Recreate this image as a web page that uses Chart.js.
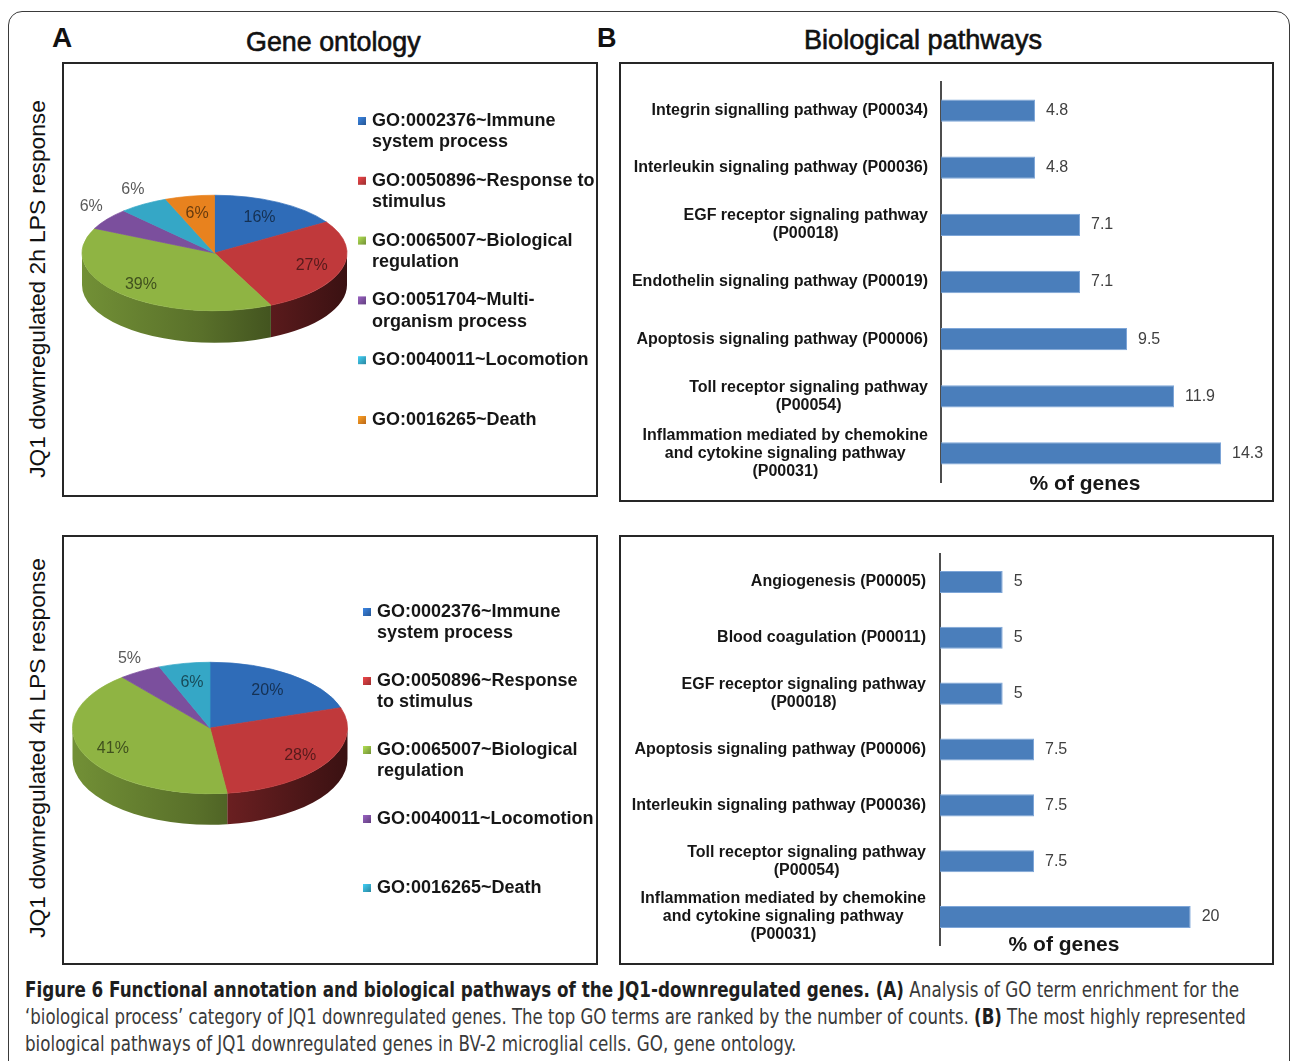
<!DOCTYPE html>
<html>
<head>
<meta charset="utf-8">
<script src="https://cdn.jsdelivr.net/npm/chart.js@4.4.1/dist/chart.umd.min.js"></script>
<style>
  html, body { margin: 0; padding: 0; background: #fff; }
  body { width: 1292px; height: 1061px; position: relative; overflow: hidden;
         font-family: "Liberation Sans", Arial, sans-serif; color: #111; }
  .frame { position: absolute; left: 8px; top: 11px; width: 1282px; height: 1080px;
           border: 1.5px solid #3a3a3a; border-radius: 14px; box-sizing: border-box; }
  .panel { position: absolute; border: 2px solid #262626; box-sizing: border-box; background: #fff; }
  .panel canvas { position: absolute; left: 0; top: 0; }
  .txt { position: absolute; white-space: nowrap; transform-origin: 0 50%; }
  .rot { transform-origin: 50% 50%; }
  .head { -webkit-text-stroke: 0.6px #111; }
  .cap { font-family: "Liberation Sans Narrow", "DejaVu Sans Condensed", "Liberation Sans", Arial, sans-serif;
         font-size: 21px; line-height: 27px; height: 27px; color: #3a3a3a; }
  .cap b { color: #1e1e1e; }
</style>
</head>
<body>
<div class="frame"></div>

<div class="txt" style="left:52px;top:22px;line-height:32px;font-size:28px;font-weight:bold;">A</div>
<div class="txt head" data-w="175" style="left:246px;top:26px;line-height:32px;font-size:27px;">Gene ontology</div>
<div class="txt" style="left:597px;top:22px;line-height:32px;font-size:27px;font-weight:bold;">B</div>
<div class="txt head" data-w="238" style="left:804px;top:24px;line-height:32px;font-size:27px;">Biological pathways</div>

<div class="txt rot" data-w="378" data-rot="1" style="left:38px;top:289px;line-height:26px;font-size:22px;">JQ1 downregulated 2h LPS response</div>
<div class="txt rot" data-w="380" data-rot="1" style="left:38px;top:748px;line-height:26px;font-size:22px;">JQ1 downregulated 4h LPS response</div>

<div class="panel" style="left:62px;top:62px;width:536px;height:435px;"><canvas id="pie2h" width="532" height="431"></canvas></div>
<div class="panel" style="left:619px;top:62px;width:655px;height:440px;"><canvas id="bar2h" width="651" height="436"></canvas></div>
<div class="panel" style="left:62px;top:535px;width:536px;height:430px;"><canvas id="pie4h" width="532" height="426"></canvas></div>
<div class="panel" style="left:619px;top:535px;width:655px;height:430px;"><canvas id="bar4h" width="651" height="426"></canvas></div>

<div class="txt cap" data-w="1214" style="left:25px;top:977px;"><b>Figure 6 Functional annotation and biological pathways of the JQ1-downregulated genes. (A)</b> Analysis of GO term enrichment for the</div>
<div class="txt cap" data-w="1221" style="left:25px;top:1004px;">‘biological process’ category of JQ1 downregulated genes. The top GO terms are ranked by the number of counts. <b>(B)</b> The most highly represented</div>
<div class="txt cap" data-w="771" style="left:25px;top:1031px;">biological pathways of JQ1 downregulated genes in BV-2 microglial cells. GO, gene ontology.</div>

<script>
// ---- GO terms, 2h LPS ----
const goTerms2h = [
  ['GO:0002376~Immune', 'system process'],
  ['GO:0050896~Response to', 'stimulus'],
  ['GO:0065007~Biological', 'regulation'],
  ['GO:0051704~Multi-', 'organism process'],
  ['GO:0040011~Locomotion'],
  ['GO:0016265~Death']
];
const goShare2h = [16, 27, 39, 6, 6, 6];

// ---- GO terms, 4h LPS ----
const goTerms4h = [
  ['GO:0002376~Immune', 'system process'],
  ['GO:0050896~Response', 'to stimulus'],
  ['GO:0065007~Biological', 'regulation'],
  ['GO:0040011~Locomotion'],
  ['GO:0016265~Death']
];
const goShare4h = [20, 28, 41, 5, 6];

// ---- Pathways, 2h LPS ----
const pathways2h = [
  'Integrin signalling pathway (P00034)',
  'Interleukin signaling pathway (P00036)',
  ['EGF receptor signaling pathway', '(P00018)'],
  'Endothelin signaling pathway (P00019)',
  'Apoptosis signaling pathway (P00006)',
  ['Toll receptor signaling pathway', '(P00054)'],
  ['Inflammation mediated by chemokine', 'and cytokine signaling pathway', '(P00031)']
];
const genePct2h = [4.8, 4.8, 7.1, 7.1, 9.5, 11.9, 14.3];

// ---- Pathways, 4h LPS ----
const pathways4h = [
  'Angiogenesis (P00005)',
  'Blood coagulation (P00011)',
  ['EGF receptor signaling pathway', '(P00018)'],
  'Apoptosis signaling pathway (P00006)',
  'Interleukin signaling pathway (P00036)',
  ['Toll receptor signaling pathway', '(P00054)'],
  ['Inflammation mediated by chemokine', 'and cytokine signaling pathway', '(P00031)']
];
const genePct4h = [5, 5, 5, 7.5, 7.5, 7.5, 20];

const axisTitle = '% of genes';

// slice palette
const BLUE = '#2f6cb8', RED = '#c0393b', GREEN = '#8fb443', PURPLE = '#7b4f9d', CYAN = '#35a7c6', ORANGE = '#e8821e';
const colors2h = [BLUE, RED, GREEN, PURPLE, CYAN, ORANGE];
const colors4h = [BLUE, RED, GREEN, PURPLE, CYAN];

const FONT = '"Liberation Sans", Arial, sans-serif';

function shade(hex, f) {
  const n = parseInt(hex.slice(1), 16);
  const c = v => Math.max(0, Math.min(255, Math.round(v * f)));
  return `rgb(${c((n >> 16) & 255)},${c((n >> 8) & 255)},${c(n & 255)})`;
}

// Tilted pie: draws the rim, squashes the top face, then labels and legend.
const pie3d = {
  id: 'pie3d',
  beforeDatasetsDraw(chart, args, o) {
    const ctx = chart.ctx;
    const arcs = chart.getDatasetMeta(0).data;
    const colors = chart.data.datasets[0].backgroundColor;
    const { x: cx, y: cy, outerRadius: r } = arcs[0];
    const ry = r * o.tilt;
    arcs.forEach((arc, i) => {
      const s = Math.max(arc.startAngle, 0), e = Math.min(arc.endAngle, Math.PI);
      if (e <= s) return;
      const g = ctx.createLinearGradient(cx - r, 0, cx + r, 0);
      g.addColorStop(0, shade(colors[i], 0.8));
      g.addColorStop(0.45, shade(colors[i], 0.62));
      g.addColorStop(1, shade(colors[i], 0.3));
      ctx.beginPath();
      ctx.ellipse(cx, cy, r, ry, 0, s, e, false);
      ctx.ellipse(cx, cy + o.depth, r, ry, 0, e, s, true);
      ctx.closePath();
      ctx.fillStyle = g;
      ctx.fill();
    });
    ctx.save();
    ctx.translate(0, cy);
    ctx.scale(1, o.tilt);
    ctx.translate(0, -cy);
  },
  afterDatasetsDraw(chart, args, o) {
    const ctx = chart.ctx;
    ctx.restore();
    const arcs = chart.getDatasetMeta(0).data;
    const ds = chart.data.datasets[0];
    const { x: cx, y: cy, outerRadius: r } = arcs[0];
    const ry = r * o.tilt;
    ctx.save();
    ctx.font = '16px ' + FONT;
    ctx.textAlign = 'center';
    ctx.textBaseline = 'middle';
    arcs.forEach((arc, i) => {
      const m = (arc.startAngle + arc.endAngle) / 2;
      let x, y;
      if (o.outside.includes(i)) {
        x = cx + 1.15 * r * Math.cos(m);
        y = cy + 1.15 * ry * Math.sin(m) + o.outsideDy;
        ctx.fillStyle = '#595959';
      } else {
        const f = 0.75 + 0.05 * Math.sin(m);
        x = cx + f * r * Math.cos(m);
        y = cy + f * ry * Math.sin(m);
        ctx.fillStyle = shade(ds.backgroundColor[i], 0.45);
      }
      ctx.fillText(ds.data[i] + '%', x, y);
    });
    ctx.restore();
  },
  afterDraw(chart, args, o) {
    const ctx = chart.ctx;
    const colors = chart.data.datasets[0].backgroundColor;
    const L = o.legend;
    ctx.save();
    ctx.font = 'bold 18px ' + FONT;
    ctx.textAlign = 'left';
    ctx.textBaseline = 'middle';
    chart.data.labels.forEach((lines, i) => {
      const y0 = L.y + i * L.gap;
      const g = ctx.createLinearGradient(L.x, y0 - 4, L.x + 8, y0 + 4);
      g.addColorStop(0, shade(colors[i], 1.25));
      g.addColorStop(1, shade(colors[i], 0.8));
      ctx.fillStyle = g;
      ctx.fillRect(L.x, y0 - 4, 8, 8);
      ctx.fillStyle = '#161616';
      lines.forEach((ln, k) => ctx.fillText(ln, L.x + 14, y0 + k * L.line));
    });
    ctx.restore();
  }
};

// Category names, value labels and axis caption for the pathway bars.
const pathwayText = {
  id: 'pathwayText',
  afterDatasetsDraw(chart, args, o) {
    const ctx = chart.ctx, ys = chart.scales.y, area = chart.chartArea;
    const meta = chart.getDatasetMeta(0);
    const vals = chart.data.datasets[0].data;
    ctx.save();
    ctx.textBaseline = 'middle';
    ctx.font = 'bold 16px ' + FONT;
    ctx.fillStyle = '#161616';
    ctx.textAlign = 'center';
    chart.data.labels.forEach((lab, i) => {
      const lines = Array.isArray(lab) ? lab : [lab];
      const w = Math.max(...lines.map(l => ctx.measureText(l).width));
      const cx = area.left - o.gap - w / 2;
      const yc = ys.getPixelForValue(i);
      lines.forEach((ln, k) => ctx.fillText(ln, cx, yc + (k - (lines.length - 1) / 2) * 18));
    });
    ctx.font = '16px ' + FONT;
    ctx.fillStyle = '#404040';
    ctx.textAlign = 'left';
    meta.data.forEach((bar, i) => ctx.fillText(String(vals[i]), bar.x + 11, bar.y));
    ctx.font = 'bold 21px ' + FONT;
    ctx.fillStyle = '#161616';
    ctx.textAlign = 'center';
    ctx.fillText(axisTitle, area.left + o.titleDx, area.bottom + o.titleDy);
    ctx.restore();
  }
};

function goPie(id, labels, values, colors, padding, opts) {
  return new Chart(document.getElementById(id), {
    type: 'pie',
    data: {
      labels,
      datasets: [{ data: values, backgroundColor: colors, borderColor: colors, borderWidth: 1, hoverOffset: 0 }]
    },
    options: {
      responsive: false, animation: false, events: [],
      layout: { padding },
      plugins: { legend: { display: false }, tooltip: { enabled: false }, pie3d: opts }
    },
    plugins: [pie3d]
  });
}

function pathwayBars(id, labels, values, max, barPct, padding, opts) {
  return new Chart(document.getElementById(id), {
    type: 'bar',
    data: {
      labels,
      datasets: [{
        data: values, backgroundColor: '#4a7ebb', borderColor: '#7ea6d8', borderWidth: 1,
        barPercentage: barPct, categoryPercentage: 1
      }]
    },
    options: {
      indexAxis: 'y', responsive: false, animation: false, events: [],
      layout: { padding },
      plugins: { legend: { display: false }, tooltip: { enabled: false }, pathwayText: opts },
      scales: {
        x: { display: false, min: 0, max },
        y: {
          grid: { display: false }, ticks: { display: false },
          border: { display: true, color: '#4d4d4d', width: 2 },
          afterFit(s) { s.width = 0; }
        }
      }
    },
    plugins: [pathwayText]
  });
}

goPie('pie2h', goTerms2h, goShare2h, colors2h,
  { left: 17.5, right: 248.5, top: 56, bottom: 109 },
  { tilt: 0.436, depth: 32, outside: [3, 4], outsideDy: -7, legend: { x: 294, y: 57, gap: 59.8, line: 21.5 } });

goPie('pie4h', goTerms4h, goShare4h, colors4h,
  { left: 8, right: 248, top: 53, bottom: 97 },
  { tilt: 0.478, depth: 31, outside: [3], outsideDy: -4, legend: { x: 299, y: 75, gap: 69, line: 21.5 } });

pathwayBars('bar2h', pathways2h, genePct2h, 16, 0.39,
  { left: 320, right: 17.7, top: 18, bottom: 18 },
  { gap: 13, titleDx: 144, titleDy: 2 });

pathwayBars('bar4h', pathways4h, genePct4h, 24, 0.395,
  { left: 319, right: 31.2, top: 17, bottom: 18 },
  { gap: 14, titleDx: 124, titleDy: 0 });

// stretch/condense text blocks to their set widths
document.querySelectorAll('[data-w]').forEach(el => {
  const k = +el.dataset.w / el.offsetWidth;
  el.style.transform = el.dataset.rot
    ? `translate(-50%,-50%) rotate(-90deg) scaleX(${k})`
    : `scaleX(${k})`;
});
</script>
</body>
</html>
